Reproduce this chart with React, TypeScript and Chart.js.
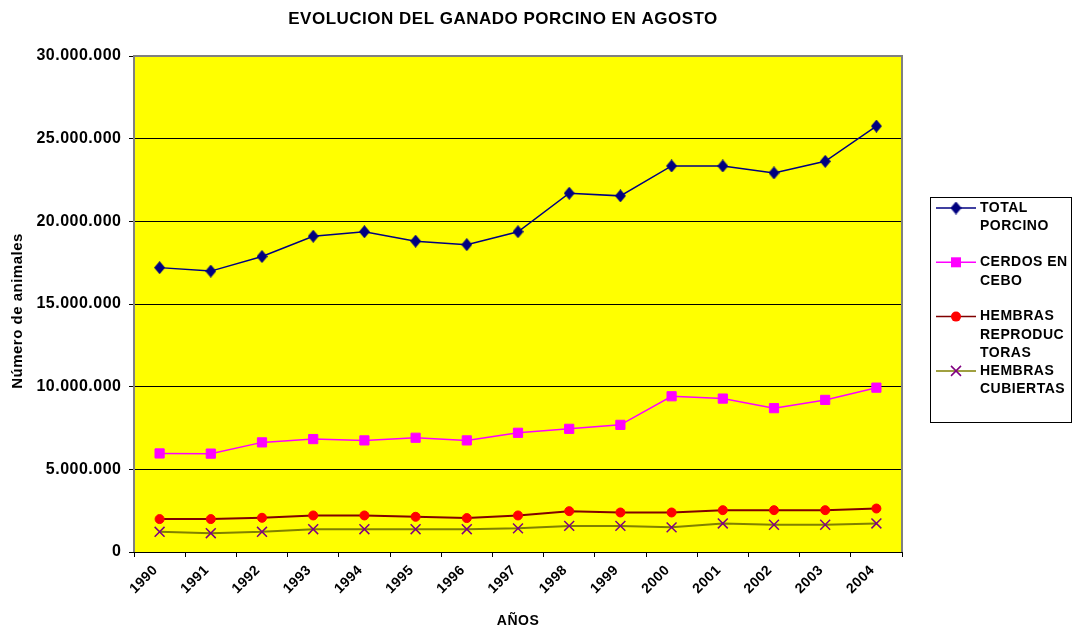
import React, { useEffect, useRef } from 'react';
import { Chart, registerables } from 'chart.js';

Chart.register(...registerables);

const chartTitle = 'EVOLUCION DEL GANADO PORCINO EN AGOSTO';
const yAxisTitle = 'Número de animales';
const xAxisTitle = 'AÑOS';

const years = ['1990', '1991', '1992', '1993', '1994', '1995', '1996', '1997', '1998', '1999', '2000', '2001', '2002', '2003', '2004'];

const totalPorcino = [17200000, 16990000, 17870000, 19100000, 19370000, 18800000, 18590000, 19370000, 21700000, 21540000, 23350000, 23350000, 22930000, 23630000, 25760000];
const cerdosEnCebo = [5960000, 5950000, 6630000, 6830000, 6750000, 6910000, 6750000, 7210000, 7450000, 7690000, 9420000, 9280000, 8700000, 9200000, 9940000];
const hembrasReproductoras = [1990000, 1990000, 2070000, 2210000, 2210000, 2130000, 2050000, 2210000, 2470000, 2390000, 2390000, 2530000, 2530000, 2530000, 2630000];
const hembrasCubiertas = [1220000, 1140000, 1220000, 1380000, 1380000, 1380000, 1380000, 1430000, 1580000, 1580000, 1490000, 1730000, 1650000, 1650000, 1730000];

const seriesNames = ['TOTAL PORCINO', 'CERDOS EN CEBO', 'HEMBRAS REPRODUCTORAS', 'HEMBRAS CUBIERTAS'];
const legendLines = [['TOTAL', 'PORCINO'], ['CERDOS EN', 'CEBO'], ['HEMBRAS', 'REPRODUC', 'TORAS'], ['HEMBRAS', 'CUBIERTAS']];

const yMin = 0;
const yMax = 30000000;
const yStep = 5000000;

const FONT = "'Liberation Sans', Arial, sans-serif";
const LS = '0.5px';

const fmt = (v: number) => String(Math.round(v)).replace(/\B(?=(\d{3})+(?!\d))/g, '.');

function makeDiamond(w: number, h: number, color: string) {
  const c = document.createElement('canvas');
  c.width = w;
  c.height = h;
  const g = c.getContext('2d')!;
  g.fillStyle = color;
  g.beginPath();
  g.moveTo(w / 2, 0);
  g.lineTo(w, h / 2);
  g.lineTo(w / 2, h);
  g.lineTo(0, h / 2);
  g.closePath();
  g.fill();
  return c;
}

export default function App() {
  const ref = useRef<HTMLCanvasElement>(null);

  useEffect(() => {
    const diamond = makeDiamond(11, 13, '#000080');
    const lineColors = ['#000080', '#FF00FF', '#800000', '#808000'];

    const custom = {
      id: 'custom',
      beforeLayout(chart: any) {
        chart.ctx.letterSpacing = LS;
      },
      beforeDraw(chart: any) {
        const { ctx, chartArea: a } = chart;
        ctx.letterSpacing = LS;
        ctx.save();
        ctx.fillStyle = '#FFFF00';
        ctx.fillRect(a.left, a.top, a.right - a.left, a.bottom - a.top);
        ctx.restore();
      },
      beforeDatasetsDraw(chart: any) {
        const { ctx, chartArea: a } = chart;
        ctx.save();
        ctx.strokeStyle = '#808080';
        ctx.lineWidth = 2;
        ctx.beginPath();
        ctx.moveTo(a.left, a.bottom);
        ctx.lineTo(a.left, a.top);
        ctx.lineTo(a.right, a.top);
        ctx.lineTo(a.right, a.bottom);
        ctx.stroke();
        ctx.strokeStyle = '#000';
        ctx.lineWidth = 1;
        ctx.beginPath();
        ctx.moveTo(a.left, a.bottom + 0.5);
        ctx.lineTo(a.right, a.bottom + 0.5);
        ctx.stroke();
        ctx.restore();
      },
      afterDraw(chart: any) {
        const { ctx } = chart;
        ctx.save();
        ctx.letterSpacing = LS;
        // title
        ctx.fillStyle = '#000';
        ctx.font = `bold 17px ${FONT}`;
        ctx.textAlign = 'center';
        ctx.textBaseline = 'middle';
        ctx.fillText(chartTitle, 503, 19);

        // y axis title
        ctx.save();
        ctx.font = `bold 15px ${FONT}`;
        ctx.translate(17.5, 311);
        ctx.rotate(-Math.PI / 2);
        ctx.fillText(yAxisTitle, 0, 0);
        ctx.restore();

        // legend box
        ctx.strokeStyle = '#000';
        ctx.lineWidth = 1;
        ctx.strokeRect(930.5, 197.5, 141, 225);
        ctx.font = `bold 14px ${FONT}`;
        ctx.textAlign = 'left';
        const startY = 208;
        const slot = 54.3;
        const lh = 18.4;
        legendLines.forEach((lines, i) => {
          const y = startY + slot * i;
          ctx.strokeStyle = lineColors[i];
          ctx.lineWidth = 1.5;
          ctx.beginPath();
          ctx.moveTo(936, y);
          ctx.lineTo(976, y);
          ctx.stroke();
          const mx = 956;
          if (i === 0) {
            ctx.drawImage(diamond, mx - 5.5, y - 6.5);
          } else if (i === 1) {
            ctx.fillStyle = '#FF00FF';
            ctx.fillRect(mx - 5, y - 5, 10, 10);
          } else if (i === 2) {
            ctx.fillStyle = '#FF0000';
            ctx.beginPath();
            ctx.arc(mx, y, 5, 0, Math.PI * 2);
            ctx.fill();
          } else {
            ctx.strokeStyle = '#800080';
            ctx.lineWidth = 1.5;
            ctx.beginPath();
            ctx.moveTo(mx - 5, y - 5);
            ctx.lineTo(mx + 5, y + 5);
            ctx.moveTo(mx + 5, y - 5);
            ctx.lineTo(mx - 5, y + 5);
            ctx.stroke();
          }
          ctx.fillStyle = '#000';
          lines.forEach((t, j) => ctx.fillText(t, 980, y + j * lh));
        });
        ctx.restore();
      },
    };

    Chart.defaults.font.family = FONT;

    const chart = new Chart(ref.current!, {
      type: 'line',
      data: {
        labels: years,
        datasets: [
          {
            label: seriesNames[0],
            data: totalPorcino,
            borderColor: '#000080',
            backgroundColor: '#000080',
            borderWidth: 1.5,
            pointStyle: diamond as any,
            pointRadius: 6,
            pointHoverRadius: 6,
          },
          {
            label: seriesNames[1],
            data: cerdosEnCebo,
            borderColor: '#FF00FF',
            backgroundColor: '#FF00FF',
            borderWidth: 1.5,
            pointStyle: 'rect',
            pointRadius: 6.5,
            pointHoverRadius: 6.5,
            pointBorderColor: '#FF00FF',
            pointBackgroundColor: '#FF00FF',
            pointBorderWidth: 1,
          },
          {
            label: seriesNames[2],
            data: hembrasReproductoras,
            borderColor: '#800000',
            backgroundColor: '#FF0000',
            borderWidth: 2,
            pointStyle: 'circle',
            pointRadius: 4.5,
            pointHoverRadius: 4.5,
            pointBorderColor: '#FF0000',
            pointBackgroundColor: '#FF0000',
            pointBorderWidth: 1,
          },
          {
            label: seriesNames[3],
            data: hembrasCubiertas,
            borderColor: '#808000',
            backgroundColor: '#800080',
            borderWidth: 2,
            pointStyle: 'crossRot',
            pointRadius: 7,
            pointHoverRadius: 7,
            pointBorderColor: '#800080',
            pointBorderWidth: 1.5,
          },
        ],
      },
      options: {
        responsive: false,
        devicePixelRatio: 1,
        animation: false,
        layout: { padding: { top: 56, right: 173, bottom: 0, left: 0 } },
        elements: { line: { tension: 0 } },
        plugins: {
          legend: { display: false },
          title: { display: false },
          tooltip: { enabled: false },
        },
        scales: {
          x: {
            type: 'category',
            offset: true,
            afterFit: (s: any) => {
              s.height = 78;
            },
            ticks: {
              autoSkip: false,
              minRotation: 45,
              maxRotation: 45,
              color: '#000',
              padding: 5,
              labelOffset: -4,
              font: { size: 14, weight: 'bold' },
            },
            grid: {
              offset: true,
              drawOnChartArea: false,
              drawTicks: true,
              tickLength: 5,
              color: '#000',
            },
            border: { display: true, color: '#000', width: 1 },
            title: {
              display: true,
              text: xAxisTitle,
              color: '#000',
              font: { size: 14, weight: 'bold' },
              padding: { top: 0, bottom: 0.6 },
            },
          },
          y: {
            min: yMin,
            max: yMax,
            afterFit: (s: any) => {
              s.width = 134;
            },
            ticks: {
              stepSize: yStep,
              color: '#000',
              padding: 7.5,
              font: { size: 16, weight: 'bold' },
              callback: (v: any) => fmt(Number(v)),
            },
            grid: {
              color: '#000',
              lineWidth: 1,
              drawTicks: true,
              tickLength: 5,
              tickColor: '#000',
            },
            border: { display: false },
            title: { display: false },
          },
        },
      },
      plugins: [custom],
    } as any);

    return () => chart.destroy();
  }, []);

  return (
    <div style={{ position: 'absolute', left: 0, top: 0, width: 1075, height: 630 }}>
      <canvas ref={ref} width={1075} height={630} style={{ display: 'block' }} />
    </div>
  );
}
